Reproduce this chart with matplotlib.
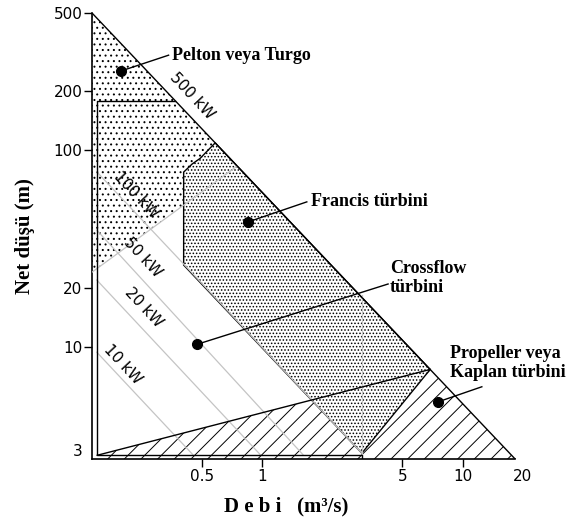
import matplotlib
matplotlib.use("Agg")
import matplotlib.pyplot as plt
from matplotlib.patches import Polygon

plt.rcParams['hatch.linewidth'] = 0.7

# axis range (Q in m3/s, H in m)
q_lim = (0.142, 20)
h_lim = (2.69, 500)
q_apex = 18.27

# turbine regions, vertices as (Q, H)
pelton_q = [0.142, 0.751, 0.142]
pelton_h = [500, 83.2, 24.0]

francis_q = [0.584, 0.491, 0.448, 0.4066, 0.4066, 3.145, 6.89]
francis_h = [109.2, 91.0, 85.2, 77.5, 26.1, 2.88, 7.68]

kaplan_q = [0.1507, 0.1507, 6.89, 18.27]
kaplan_h = [2.69, 2.81, 7.68, 2.69]

# crossflow frame
cross_q = [0.369, 0.1507, 0.1507, 3.145, 3.145]
cross_h = [178.8, 178.8, 2.83, 2.83, 2.69]
cross_right_q = [3.145, 3.145]
cross_right_h = [18.4, 2.83]

# 500 kW limit line
limit_q = [0.142, 18.27]
limit_h = [500, 2.69]

# Pelton / Crossflow boundary (grey)
pc_q = [0.142, 0.751]
pc_h = [24.0, 83.2]

# constant power lines (grey)
power_labels = ["100 kW", "50 kW", "20 kW", "10 kW"]
power_q = [[0.150, 3.145], [0.150, 1.60], [0.150, 0.98], [0.150, 0.452]]
power_h = [[77.8, 2.88], [39.3, 2.83], [21.9, 2.83], [9.4, 2.83]]
label_q = [0.450, 0.236, 0.2555, 0.2584, 0.2018]
label_h = [190.0, 59.0, 28.5, 15.8, 8.1]

# pointers: dot, line end, text anchor
names = ["Pelton veya Turgo", "Francis türbini", "Crossflow\ntürbini",
         "Propeller veya\nKaplan türbini"]
dot_q = [0.197, 0.855, 0.473, 7.57]
dot_h = [253, 43.3, 10.3, 5.26]
end_q = [0.342, 1.672, 4.25, 12.47]
end_h = [305, 54.7, 20.9, 6.27]
txt_q = [0.356, 1.751, 4.35, 8.66]
txt_h = [305, 55.0, 22.3, 8.24]

y_ticks = [3, 10, 20, 100, 200, 500]
x_ticks = [0.5, 1, 5, 10, 20]
x_tick_labels = ["0.5", "1", "5", "10", "20"]

fig = plt.figure(figsize=(5.82, 5.23), dpi=100)
ax = fig.add_axes([92 / 582, 64 / 523, 431 / 582, 446 / 523])
ax.set_xscale('log')
ax.set_yscale('log')
ax.set_xlim(q_lim)
ax.set_ylim(h_lim)

# regions
ax.add_patch(Polygon(list(zip(kaplan_q, kaplan_h)), closed=True, facecolor='white',
                     edgecolor='black', linewidth=0, hatch='//', zorder=1))
ax.add_patch(Polygon(list(zip(pelton_q, pelton_h)), closed=True, facecolor='white',
                     edgecolor='black', linewidth=0, hatch='...', zorder=1))
ax.add_patch(Polygon(list(zip(francis_q, francis_h)), closed=True, facecolor='white',
                     edgecolor='black', linewidth=1.0, hatch='.....', zorder=2))

# grey lines
grey = '#c4c4c4'
for q, h in zip(power_q, power_h):
    ax.plot(q, h, color=grey, lw=0.9, zorder=3)
ax.plot(pc_q, pc_h, color=grey, lw=0.9, zorder=3)
ax.plot(cross_right_q, cross_right_h, color=grey, lw=0.9, zorder=3)

# black lines
ax.plot(limit_q, limit_h, color='black', lw=1.0, zorder=4)
ax.plot(kaplan_q[1:3], kaplan_h[1:3], color='black', lw=1.0, zorder=4)
ax.plot(cross_q, cross_h, color='black', lw=1.0, zorder=4)

# power labels
for lab, q, h in zip(["500 kW"] + power_labels, label_q, label_h):
    ax.text(q, h, lab, rotation=-47, ha='center', va='center', fontsize=11,
            family='DejaVu Sans', zorder=5)

# pointers
for i, name in enumerate(names):
    ax.plot([dot_q[i], end_q[i]], [dot_h[i], end_h[i]], color='black', lw=1.0, zorder=4)
    ax.plot(dot_q[i], dot_h[i], 'o', color='black', ms=7, zorder=5)
    ax.text(txt_q[i], txt_h[i], name, ha='left', va='center', fontsize=13,
            family='Liberation Serif', fontweight='bold', linespacing=1.15, zorder=5)

# axes styling
for s in ['top', 'right']:
    ax.spines[s].set_visible(False)
ax.spines['bottom'].set_bounds(q_lim[0], q_apex)
ax.spines['left'].set_linewidth(1.2)
ax.spines['bottom'].set_linewidth(1.2)

ax.set_yticks(y_ticks)
ax.set_yticklabels([str(t) for t in y_ticks])
ax.set_xticks(x_ticks)
ax.set_xticklabels(x_tick_labels)
ax.minorticks_off()
ax.tick_params(axis='both', direction='out', length=6, width=1, labelsize=11, pad=1)
for t, v in zip(ax.yaxis.get_major_ticks(), y_ticks):
    if v == 3:
        t.tick1line.set_visible(False)
for t, v in zip(ax.xaxis.get_major_ticks(), x_ticks):
    if v == 20:
        t.tick1line.set_visible(False)

ax.set_ylabel("Net düşü (m)", fontsize=15, family='Liberation Serif',
              fontweight='bold', labelpad=13)
ax.set_xlabel("D e b i   (m³/s)", fontsize=15, family='Liberation Serif',
              fontweight='bold', labelpad=9)
ax.xaxis.label.set_x(0.45)

fig.savefig("out.png", dpi=100)
